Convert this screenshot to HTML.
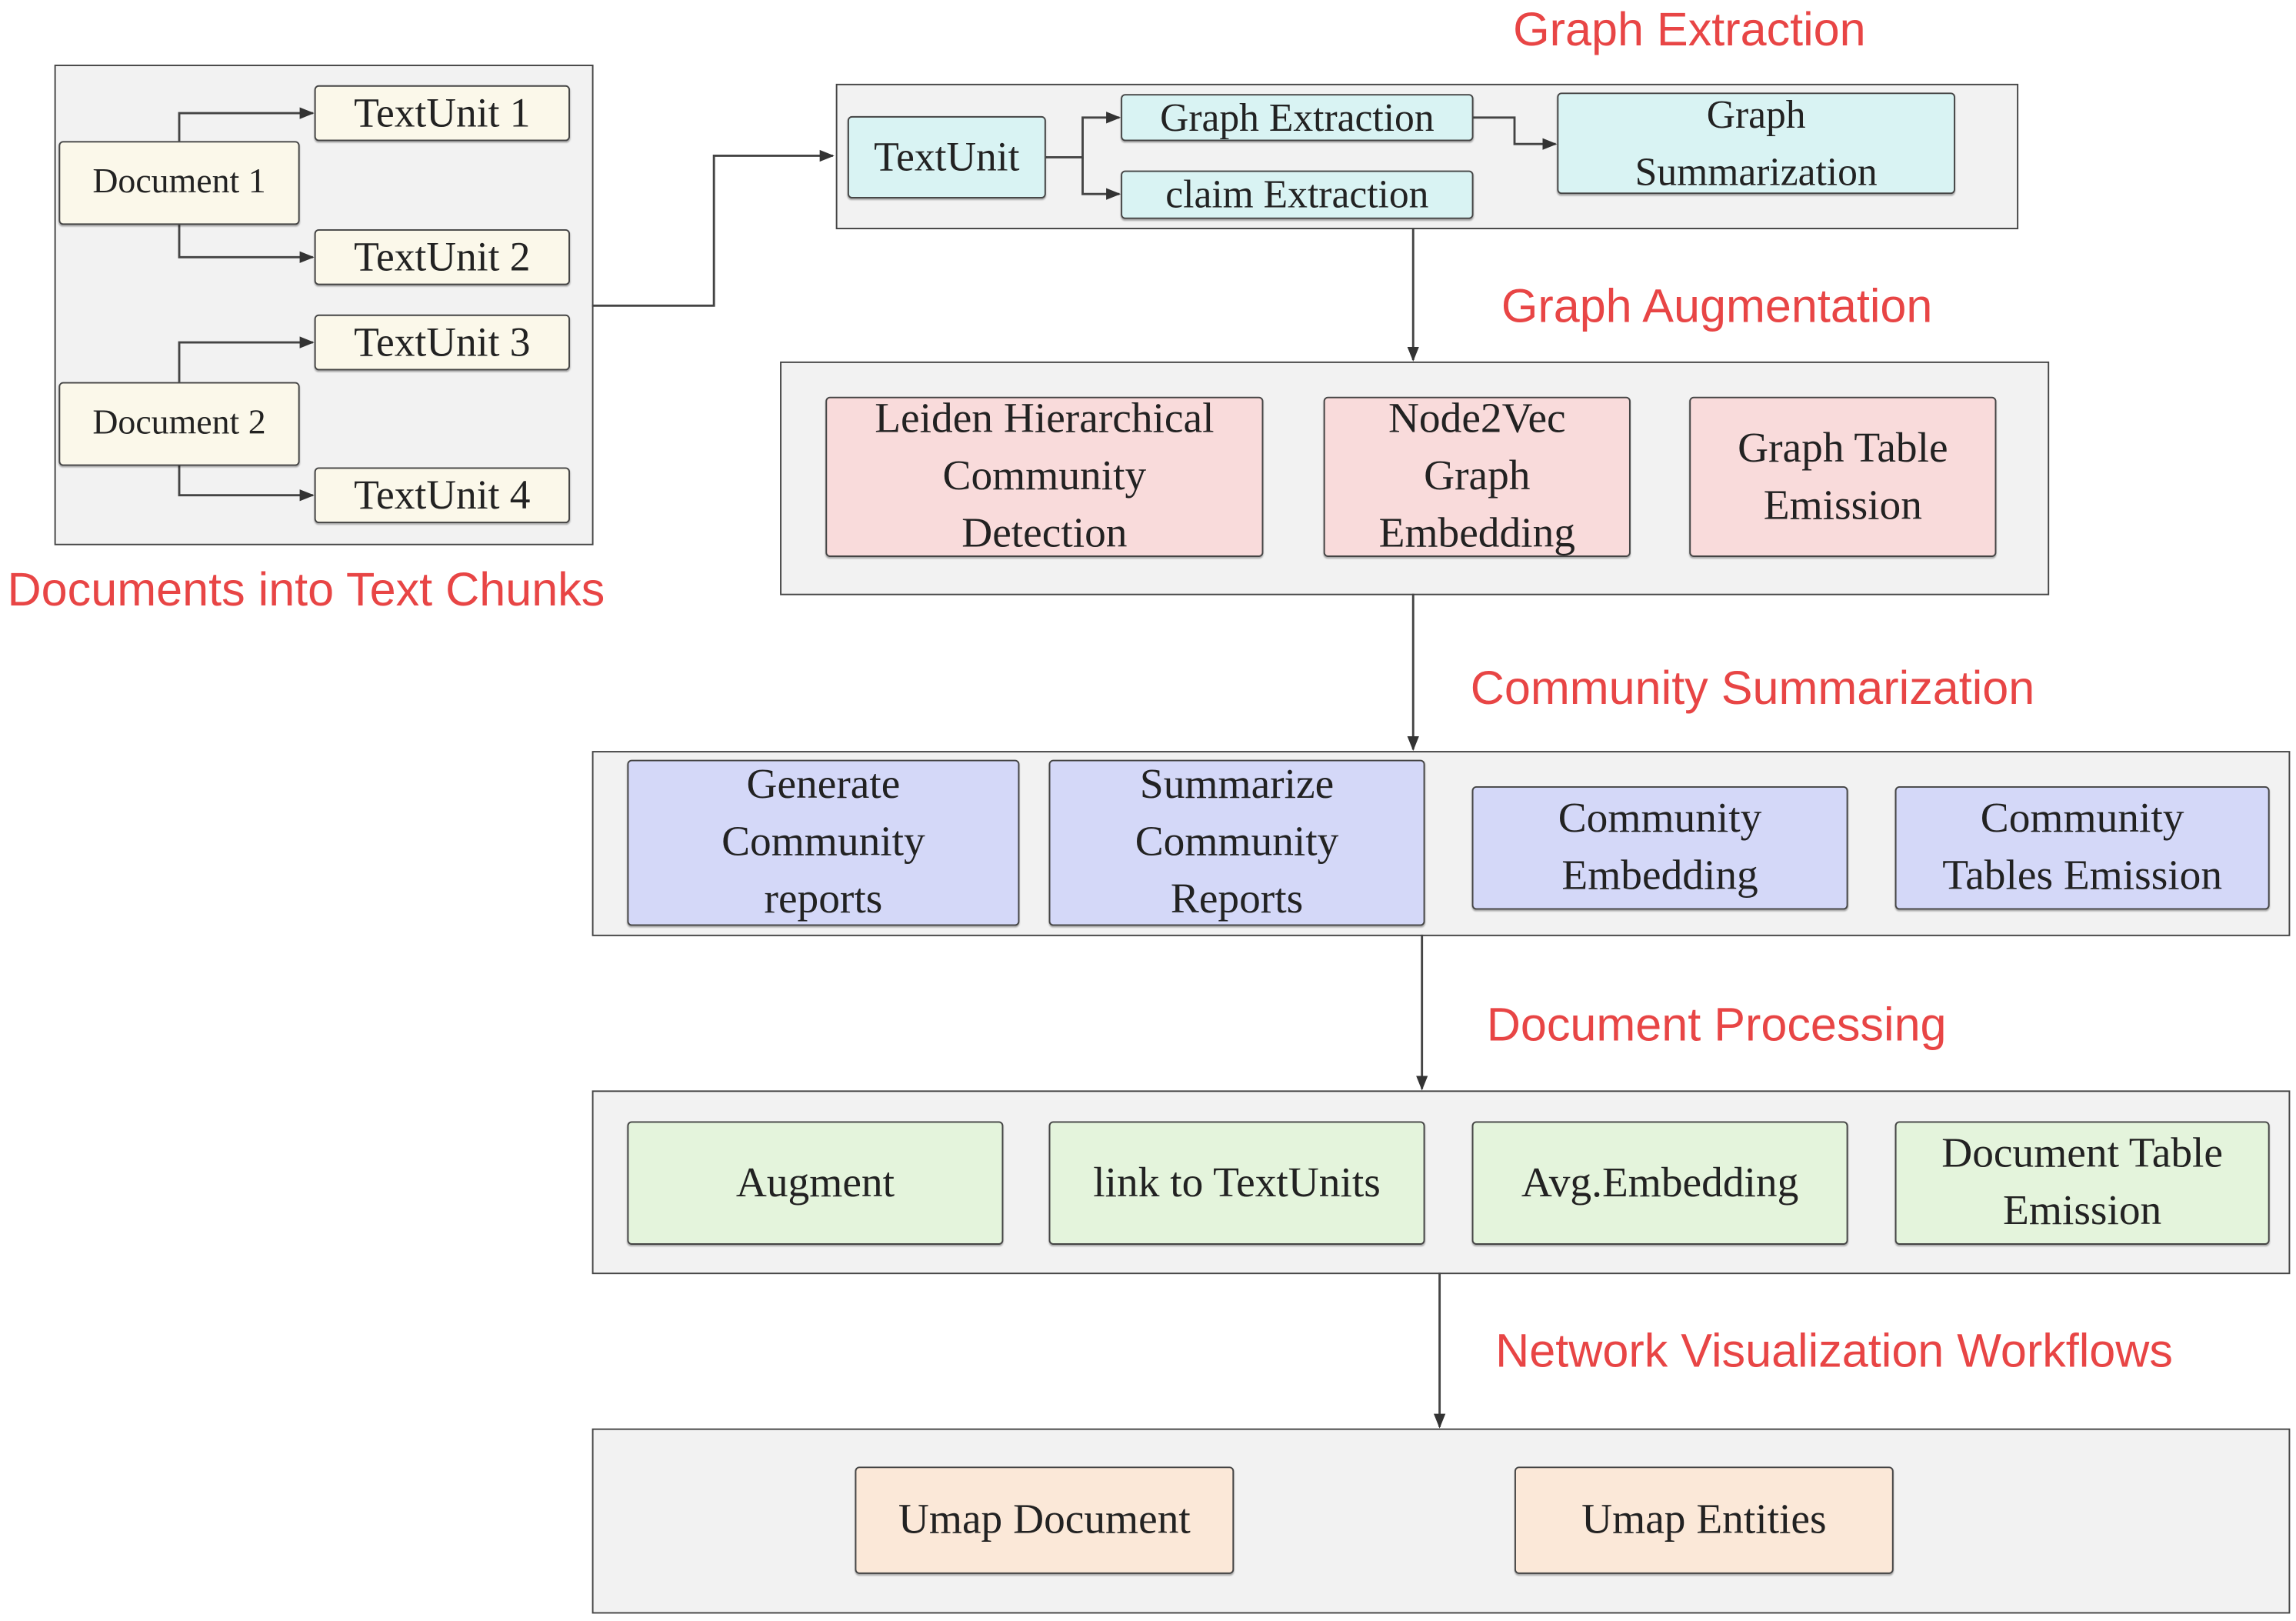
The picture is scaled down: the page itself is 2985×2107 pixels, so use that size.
<!DOCTYPE html>
<html><head><meta charset="utf-8"><style>
html,body{margin:0;padding:0;background:#fff;}
body{width:2985px;height:2107px;overflow:hidden;position:relative;}
#s{position:absolute;left:0;top:0;width:1563px;height:1103px;transform:scale(1.9098,1.9102);transform-origin:0 0;}
.g{position:absolute;background:#f2f2f2;border:1.5px solid #444;box-sizing:border-box;}
.b{position:absolute;box-sizing:border-box;border:1.5px solid #444;border-radius:3px;display:flex;align-items:center;justify-content:center;text-align:center;font-family:"Liberation Serif",serif;font-size:29px;line-height:39px;color:#222;box-shadow:0 1px 1px rgba(0,0,0,.3);}
.y{background:#fbf8ea;}.c{background:#d9f3f3;}.p{background:#f9dbdb;}.v{background:#d4d8f8;}.gr{background:#e4f4dc;}.o{background:#fbe8d8;}
.l{position:absolute;font-family:"Liberation Sans",sans-serif;font-size:32px;color:#e84545;white-space:nowrap;line-height:1;}
svg{position:absolute;left:0;top:0;}
</style></head><body><div id="s">
<div class="g" style="left:37px;top:44px;width:367px;height:327px"></div>
<div class="g" style="left:569px;top:57px;width:805px;height:99px"></div>
<div class="g" style="left:531px;top:246px;width:864px;height:159px"></div>
<div class="g" style="left:403px;top:511px;width:1156px;height:126px"></div>
<div class="g" style="left:403px;top:742px;width:1156px;height:125px"></div>
<div class="g" style="left:403px;top:972px;width:1156px;height:126px"></div>

<svg width="1563" height="1103" viewBox="0 0 1563 1103">
<defs><marker id="a" markerWidth="10" markerHeight="10" refX="9" refY="5" orient="auto" markerUnits="userSpaceOnUse"><path d="M0,1 L10,5 L0,9 z" fill="#333"/></marker></defs>
<g fill="none" stroke="#444" stroke-width="1.5" marker-end="url(#a)">
<path d="M122,96 V77 H213"/><path d="M122,153 V175 H213"/>
<path d="M122,260 V233 H213"/><path d="M122,317 V337 H213"/>
<path d="M403,208 H486 V106 H567"/>
<path d="M712,107 H737 V80 H762"/><path d="M737,107 V132 H762"/>
<path d="M1003,80 H1031 V98 H1059"/>
<path d="M962,155 V245"/><path d="M962,404 V510"/>
<path d="M968,636 V741"/><path d="M980,866 V971"/>
</g></svg>

<div class="b y" style="left:40px;top:96px;width:164px;height:57px;font-size:24px">Document 1</div>
<div class="b y" style="left:40px;top:260px;width:164px;height:57px;font-size:24px">Document 2</div>
<div class="b y" style="left:214px;top:58px;width:174px;height:38px;font-size:28px">TextUnit 1</div>
<div class="b y" style="left:214px;top:156px;width:174px;height:38px;font-size:28px">TextUnit 2</div>
<div class="b y" style="left:214px;top:214px;width:174px;height:38px;font-size:28px">TextUnit 3</div>
<div class="b y" style="left:214px;top:318px;width:174px;height:38px;font-size:28px">TextUnit 4</div>

<div class="b c" style="left:577px;top:79px;width:135px;height:56px;font-size:28px">TextUnit</div>
<div class="b c" style="left:763px;top:64px;width:240px;height:32px;font-size:27px">Graph Extraction</div>
<div class="b c" style="left:763px;top:116px;width:240px;height:33px;font-size:27px">claim Extraction</div>
<div class="b c" style="left:1060px;top:63px;width:271px;height:69px;font-size:27px;line-height:39px">Graph<br>Summarization</div>

<div class="b p" style="left:562px;top:270px;width:298px;height:109px">Leiden Hierarchical<br>Community<br>Detection</div>
<div class="b p" style="left:901px;top:270px;width:209px;height:109px">Node2Vec<br>Graph<br>Embedding</div>
<div class="b p" style="left:1150px;top:270px;width:209px;height:109px">Graph Table<br>Emission</div>

<div class="b v" style="left:427px;top:517px;width:267px;height:113px">Generate<br>Community<br>reports</div>
<div class="b v" style="left:714px;top:517px;width:256px;height:113px">Summarize<br>Community<br>Reports</div>
<div class="b v" style="left:1002px;top:535px;width:256px;height:84px">Community<br>Embedding</div>
<div class="b v" style="left:1290px;top:535px;width:255px;height:84px">Community<br>Tables Emission</div>

<div class="b gr" style="left:427px;top:763px;width:256px;height:84px">Augment</div>
<div class="b gr" style="left:714px;top:763px;width:256px;height:84px">link to TextUnits</div>
<div class="b gr" style="left:1002px;top:763px;width:256px;height:84px">Avg.Embedding</div>
<div class="b gr" style="left:1290px;top:763px;width:255px;height:84px">Document Table<br>Emission</div>

<div class="b o" style="left:582px;top:998px;width:258px;height:73px">Umap Document</div>
<div class="b o" style="left:1031px;top:998px;width:258px;height:73px">Umap Entities</div>

<div class="l" style="left:1030px;top:4px">Graph Extraction</div>
<div class="l" style="left:1022px;top:192px">Graph Augmentation</div>
<div class="l" style="left:5px;top:385px">Documents into Text Chunks</div>
<div class="l" style="left:1001px;top:452px">Community Summarization</div>
<div class="l" style="left:1012px;top:681px">Document Processing</div>
<div class="l" style="left:1018px;top:903px">Network Visualization Workflows</div>
</div></body></html>
